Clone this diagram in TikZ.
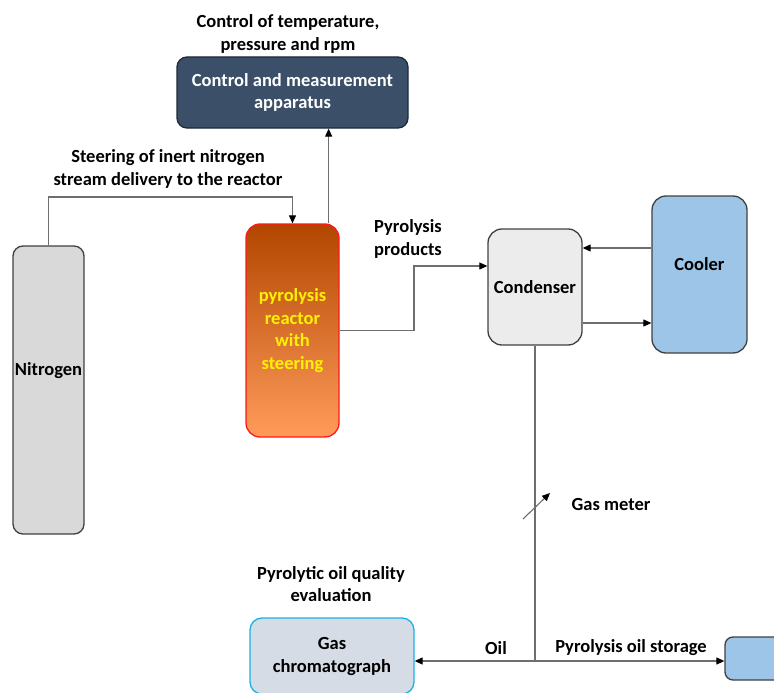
\documentclass[tikz,border=0pt]{standalone}
\usepackage{fontspec}
\setmainfont{Carlito}
\usetikzlibrary{arrows.meta}

\definecolor{ctrlblue}{RGB}{59,80,104}
\definecolor{ctrlline}{RGB}{30,42,56}
\definecolor{boxline}{RGB}{64,64,64}
\definecolor{nitrogrey}{RGB}{217,217,217}
\definecolor{reactortop}{RGB}{178,70,0}
\definecolor{reactorbot}{RGB}{255,155,90}
\definecolor{condgrey}{RGB}{236,236,236}
\definecolor{coolblue}{RGB}{157,197,232}
\definecolor{gcfill}{RGB}{214,220,229}
\definecolor{gcline}{RGB}{26,176,232}
\definecolor{flowgrey}{RGB}{110,110,110}

\tikzset{
  unit/.style={draw=boxline,line width=1.3pt,rounded corners=12pt,align=center,inner sep=0pt,
    font=\bfseries\fontsize{18.5}{22.5}\selectfont},
  lbl/.style={align=center,inner sep=0pt,font=\bfseries\fontsize{18.5}{22.5}\selectfont},
  flow/.style={draw=flowgrey,line width=1.1pt},
}

\begin{document}
\begin{tikzpicture}[x=1pt,y=-1pt,>={Triangle[length=8pt,width=7pt,color=black]}]
	\useasboundingbox (0,0) rectangle (774,693);
	\clip (0,0) rectangle (774,693);
	% units
	\node[unit,fill=ctrlblue,draw=ctrlline,text=white,minimum width=231pt,minimum height=71pt,rounded corners=10pt] (ctrl) at (292.5,92.5) {Control and measurement\\apparatus};
	\node[unit,fill=nitrogrey,minimum width=71pt,minimum height=288pt,rounded corners=10pt,
		label={[lbl,yshift=19pt]center:Nitrogen}] (nitro) at (48.5,390) {};
	\node[unit,draw=red!90!white,top color=reactortop,bottom color=reactorbot,text=yellow,minimum width=93pt,minimum height=213pt,rounded corners=14pt] (reactor) at (292.5,330.5) {pyrolysis\\reactor\\with\\steering};
	\node[unit,fill=condgrey,minimum width=94pt,minimum height=116pt,rounded corners=14pt] (cond) at (535,287) {Condenser};
	\node[unit,fill=coolblue,minimum width=95pt,minimum height=157pt,rounded corners=14pt,
		label={[lbl,yshift=10pt]center:Cooler}] (cooler) at (699.5,274.5) {};
	\node[unit,draw=gcline,fill=gcfill,font=\fontsize{18.5}{23}\selectfont\bfseries,minimum width=164pt,minimum height=76pt,rounded corners=12pt] (gc) at (332,656) {Gas\\chromatograph};
	\node[unit,fill=coolblue,minimum width=70pt,minimum height=43pt,rounded corners=8pt] (storage) at (760,658.5) {};
	% labels
	\node[lbl] (ctrltxt) at (288,34) {Control of temperature,\\pressure and rpm};
	\node[lbl] (steertxt) at (168,169) {Steering of inert nitrogen\\stream delivery to the reactor};
	\node[lbl,align=left] (prodtxt) at (408,239) {Pyrolysis\\products};
	\node[lbl] (gmtxt) at (611,504) {Gas meter};
	\node[lbl] (evaltxt) at (331,584) {Pyrolytic oil quality\\evaluation};
	\node[lbl] (oiltxt) at (496,648) {Oil};
	\node[lbl] (stortxt) at (631,648) {Pyrolysis oil storage};
	% connectors
	\coordinate (rtop) at ([xshift=-11pt]reactor.north east);
	\draw[flow,->] (rtop) -- (rtop |- ctrl.south);
	\draw[flow,->] (nitro.north) -- (nitro.north |- 0,197) -| (reactor.north);
	\draw[flow,->] (reactor.east) -| (414,266) -- (cond.west |- 0,266);
	\draw[flow,->] (cooler.west |- 0,248) -- (cond.east |- 0,248);
	\draw[flow,->] (cond.east |- 0,323) -- (cooler.west |- 0,323);
	\coordinate (junc) at (cond.south |- 0,661);
	\draw[flow] (cond.south) -- (junc);
	\draw[flow,->] (junc) -- (gc.east |- junc);
	\draw[flow,->] (junc) -- (storage.west |- junc);
	% gas meter
	\coordinate (gm) at (cond.south |- 0,506);
	\draw[flow,->] ([shift={(-12,13)}]gm) -- ([shift={(15,-13)}]gm);
\end{tikzpicture}
\end{document}
